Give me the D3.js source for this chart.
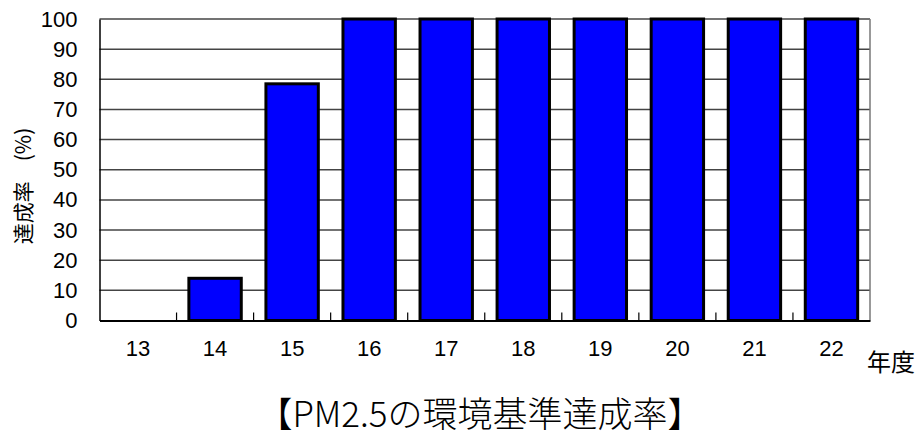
<!DOCTYPE html>
<html><head><meta charset="utf-8">
<script src="https://cdn.jsdelivr.net/npm/d3@7"></script>
<style>body{margin:0;background:#fff}svg{display:block}</style>
</head><body>
<script>
const categories = ["13","14","15","16","17","18","19","20","21","22"];
const values = [0, 14, 78.5, 100, 100, 100, 100, 100, 100, 100];
const yTicks = [0,10,20,30,40,50,60,70,80,90,100];
const yLabelMain = "達成率";
const yLabelUnit = "(%)";
const xLabel = "年度";
const title = "【PM2.5の環境基準達成率】";

const W = 917, H = 438;
const m = {left: 99.5, right: 870, top: 19, bottom: 320.5};
const svg = d3.select("body").append("svg").attr("width", W).attr("height", H);
const numFont = "'Liberation Sans', Arial, sans-serif";
const jpFont = "'Noto Sans CJK JP', sans-serif";

const x = d3.scaleBand().domain(categories).range([m.left, m.right]).paddingInner(0.32).paddingOuter(0.16);
const xb = d3.scaleBand().domain(categories).range([m.left, m.right]);
const y = d3.scaleLinear().domain([0,100]).range([m.bottom, m.top]);

// gridlines
svg.append("g").selectAll("line").data(yTicks.filter(d => d > 0)).join("line")
  .attr("x1", m.left).attr("x2", m.right)
  .attr("y1", d => y(d)).attr("y2", d => y(d))
  .attr("stroke", "#444").attr("stroke-width", 1.5);
// right border
svg.append("line").attr("x1", m.right).attr("x2", m.right).attr("y1", m.top).attr("y2", m.bottom)
  .attr("stroke", "#777").attr("stroke-width", 1.5);

// bars
svg.append("g").selectAll("rect").data(categories.map((c,i)=>({c, v: values[i]})).filter(d => d.v > 0)).join("rect")
  .attr("x", d => x(d.c)).attr("width", x.bandwidth())
  .attr("y", d => y(d.v)).attr("height", d => y(0) - y(d.v))
  .attr("fill", "#0000ff").attr("stroke", "#000").attr("stroke-width", 3);

// y axis
const yAxis = d3.axisLeft(y).tickValues(yTicks).tickSize(0).tickPadding(22);
const gy = svg.append("g").attr("transform", `translate(${m.left},0)`).call(yAxis);
gy.select(".domain").attr("stroke", "#000").attr("stroke-width", 1.5);
gy.selectAll("text").attr("font-family", numFont).attr("font-size", 22).attr("fill", "#000");

// x axis
const xAxis = d3.axisBottom(xb).tickSize(0).tickPadding(20);
const gx = svg.append("g").attr("transform", `translate(0,${m.bottom})`).call(xAxis);
gx.select(".domain").attr("stroke", "#000").attr("stroke-width", 2);
gx.selectAll("text").attr("font-family", numFont).attr("font-size", 22).attr("fill", "#000");
// boundary ticks (inward)
svg.append("g").selectAll("line").data(categories.slice(1)).join("line")
  .attr("x1", d => xb(d)).attr("x2", d => xb(d))
  .attr("y1", m.bottom).attr("y2", m.bottom - 8)
  .attr("stroke", "#000").attr("stroke-width", 1.2);

// y label
const yl = svg.append("text").attr("transform", `translate(31,186) rotate(-90)`)
  .attr("text-anchor", "middle").attr("font-family", jpFont).attr("font-size", 21).attr("fill", "#000");
yl.append("tspan").text(yLabelMain);
yl.append("tspan").attr("dx", 20).text(yLabelUnit);

// x label
svg.append("text").attr("x", 891).attr("y", 371).attr("text-anchor", "middle")
  .attr("font-family", jpFont).attr("font-size", 24).attr("font-weight", 400).attr("fill", "#000").text(xLabel);

// title
svg.append("text").attr("x", 480).attr("y", 427).attr("text-anchor", "middle")
  .attr("font-family", jpFont).attr("font-size", 35).attr("font-weight", 300).attr("fill", "#000").text(title);
</script>
</body></html>
